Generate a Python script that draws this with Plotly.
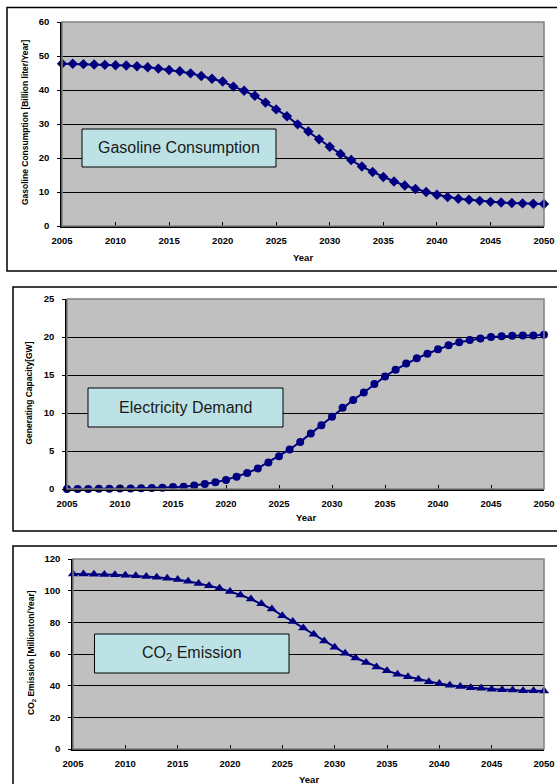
import plotly.graph_objects as go

years = list(range(2005, 2051))

gasoline = [47.75, 47.7, 47.6, 47.5, 47.4, 47.3, 47.2, 47.0, 46.7, 46.3,
            45.9, 45.5, 44.9, 44.1, 43.3, 42.5, 41.0, 39.8, 38.3, 36.3,
            34.3, 32.3, 29.9, 27.8, 25.5, 23.3, 21.2, 19.4, 17.5, 15.9,
            14.4, 13.1, 11.9, 10.9, 10.0, 9.2, 8.5, 8.0, 7.7, 7.4,
            7.1, 6.9, 6.75, 6.65, 6.55, 6.45]

electricity = [0.0, 0.0, 0.0, 0.02, 0.03, 0.05, 0.07, 0.1, 0.13, 0.18,
               0.26, 0.3, 0.45, 0.65, 0.9, 1.2, 1.6, 2.1, 2.7, 3.5,
               4.3, 5.2, 6.2, 7.3, 8.4, 9.5, 10.7, 11.7, 12.7, 13.8,
               14.8, 15.7, 16.5, 17.2, 17.8, 18.4, 18.9, 19.3, 19.6, 19.8,
               20.0, 20.1, 20.15, 20.2, 20.2, 20.3]

co2 = [110.5, 110.5, 110.3, 110.2, 110.0, 109.7, 109.4, 109.0, 108.5, 107.9,
       107.1, 105.9, 104.6, 103.1, 101.5, 99.4, 97.3, 94.7, 91.8, 88.4,
       84.2, 80.6, 76.4, 72.4, 68.2, 64.2, 60.4, 57.5, 54.7, 51.8,
       49.5, 47.2, 45.7, 44.0, 42.5, 41.3, 40.2, 39.4, 38.7, 38.3,
       37.7, 37.5, 37.3, 36.8, 36.8, 36.6]

panel_titles = ["Gasoline Consumption", "Electricity Demand", "CO<sub>2</sub> Emission"]
y_titles = ["Gasoline Consumption [Billion liter/Year]", "Generating Capacity[GW]",
            "CO<sub>2</sub> Emission [Millionton/Year]"]
y_ranges = [[0, 60], [0, 25], [0, 120]]
y_dticks = [10, 5, 20]
x_title = "Year"

W, H = 557, 784
FONT = "Liberation Sans, Arial, sans-serif"
NAVY = "#000080"

def px(x):
    return x / W

def py(y):
    return 1 - y / H

# plot-area pixel boxes: (left, top, right, bottom)
plot_boxes = [(62, 22, 544, 226), (67, 299, 544, 489), (73, 559, 544, 749)]
outer_boxes = [(7, 7.5, 562, 271), (13, 287, 562, 531), (13, 546, 562, 792)]
label_boxes = [(82, 129, 276, 167), (88, 388, 283, 427), (94.5, 634, 289, 673)]
ytitle_pos = [(25, 123), (28.5, 393), (31, 653)]
year_pos = [257, 517, 779]
symbols = ["diamond", "circle", "triangle-up"]
sizes = [8, 8, 9]
series = [gasoline, electricity, co2]

fig = go.Figure()
shapes = []
annotations = []

for i in range(3):
    l, t, r, b = plot_boxes[i]
    xa = "x" if i == 0 else f"x{i+1}"
    ya = "y" if i == 0 else f"y{i+1}"
    fig.add_trace(go.Scatter(
        x=years, y=series[i], xaxis=xa, yaxis=ya, mode="lines+markers",
        line=dict(color=NAVY, width=2),
        marker=dict(symbol=symbols[i], size=sizes[i], color=NAVY),
        cliponaxis=False, showlegend=False, hoverinfo="x+y"))
    xkey = "xaxis" if i == 0 else f"xaxis{i+1}"
    ykey = "yaxis" if i == 0 else f"yaxis{i+1}"
    fig.update_layout(**{
        xkey: dict(domain=[px(l), px(r)], anchor=ya, range=[2005, 2050],
                   dtick=5, tick0=2005, showgrid=False, zeroline=False,
                   showline=True, linecolor="black", linewidth=1.5,
                   ticks="inside", ticklen=4, tickcolor="black",
                   tickfont=dict(family=FONT, size=9.5, color="black", weight="bold"),
                   ticklabelstandoff=5, automargin=False, fixedrange=True),
        ykey: dict(domain=[py(b), py(t)], anchor=xa, range=y_ranges[i],
                   dtick=y_dticks[i], showgrid=True, gridcolor="black", gridwidth=1,
                   zeroline=False, showline=True, linecolor="black", linewidth=1.5,
                   ticks="outside", ticklen=3, tickcolor="black",
                   tickfont=dict(family=FONT, size=9.5, color="black", weight="bold"),
                   ticklabelstandoff=6, automargin=False, fixedrange=True),
    })
    # plot area top/right border (gray)
    shapes.append(dict(type="rect", xref=f"{xa} domain", yref=f"{ya} domain",
                       x0=0, x1=1, y0=0, y1=1, line=dict(color="#808080", width=1.5),
                       layer="above"))
    # outer chart border
    ol, ot, orr, ob = outer_boxes[i]
    shapes.append(dict(type="rect", xref="paper", yref="paper",
                       x0=px(ol), x1=px(orr), y0=py(ob), y1=py(ot),
                       line=dict(color="black", width=1.5), layer="below"))
    # label box
    bl, bt, br, bb = label_boxes[i]
    shapes.append(dict(type="rect", xref="paper", yref="paper",
                       x0=px(bl), x1=px(br), y0=py(bb), y1=py(bt),
                       fillcolor="#BDE2E6", line=dict(color="black", width=1),
                       layer="above"))
    annotations.append(dict(xref="paper", yref="paper", x=px((bl + br) / 2),
                            y=py((bt + bb) / 2), text=panel_titles[i], showarrow=False,
                            xanchor="center", yanchor="middle",
                            font=dict(family=FONT, size=16, color="#1a1a1a")))
    # y title
    yx, yy = ytitle_pos[i]
    annotations.append(dict(xref="paper", yref="paper", x=px(yx), y=py(yy),
                            text=y_titles[i], showarrow=False, textangle=-90,
                            xanchor="center", yanchor="middle",
                            font=dict(family=FONT, size=8.5, color="black", weight="bold")))
    # x title
    annotations.append(dict(xref="paper", yref="paper", x=px((l + r) / 2),
                            y=py(year_pos[i]), text=x_title, showarrow=False,
                            xanchor="center", yanchor="middle",
                            font=dict(family=FONT, size=9.5, color="black", weight="bold")))

fig.update_layout(width=W, height=H, margin=dict(l=0, r=0, t=0, b=0),
                  paper_bgcolor="white", plot_bgcolor="#C0C0C0",
                  shapes=shapes, annotations=annotations, showlegend=False)

fig.write_html("out.html", config={"displayModeBar": False},
               post_script="document.body.style.margin='0';document.body.style.overflow='hidden';")
